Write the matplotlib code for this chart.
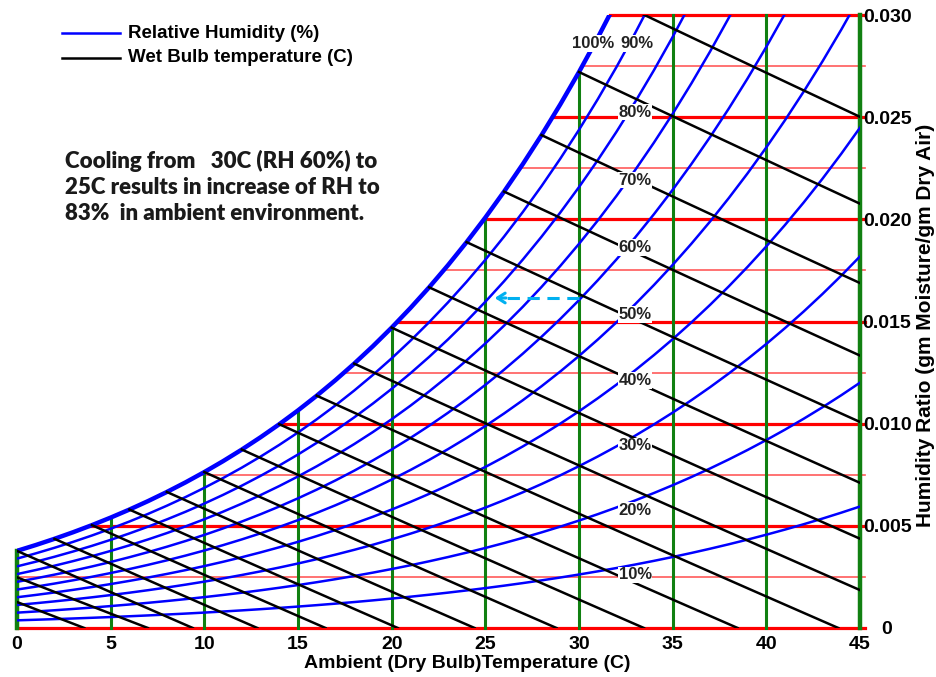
import numpy as np
import matplotlib.pyplot as plt
from matplotlib.lines import Line2D

# saturation vapour pressure over water (kPa) for 0..46 C, 1 C steps
temps = np.arange(0, 47)
p_sat = [0.6112, 0.6571, 0.7060, 0.7581, 0.8135, 0.8726, 0.9354, 1.0021, 1.0730, 1.1482,
         1.2282, 1.3129, 1.4028, 1.4981, 1.5989, 1.7057, 1.8188, 1.9383, 2.0647, 2.1982,
         2.3392, 2.4881, 2.6452, 2.8109, 2.9856, 3.1697, 3.3637, 3.5679, 3.7828, 4.0089,
         4.2467, 4.4966, 4.7592, 5.0351, 5.3247, 5.6286, 5.9475, 6.2818, 6.6324, 6.9997,
         7.3844, 7.7873, 8.2090, 8.6503, 9.1118, 9.5944, 10.098]
# below freezing (over ice), used by the two lowest wet bulb lines
ice_temps = [-4, -2]
p_ice = [0.4375, 0.5177]
p_atm = 101.325

rh_levels = [0.1, 0.2, 0.3, 0.4, 0.5, 0.6, 0.7, 0.8, 0.9, 1.0]
rh_names = ['10%', '20%', '30%', '40%', '50%', '60%', '70%', '80%', '90%', '100%']
wb_temps = [-4, -2] + list(range(0, 33, 2))
grid_temps = [0, 5, 10, 15, 20, 25, 30, 35, 40, 45]
w_levels = [0, 0.0025, 0.005, 0.0075, 0.010, 0.0125, 0.015, 0.0175,
            0.020, 0.0225, 0.025, 0.0275, 0.030]
w_ticks = [0, 0.005, 0.010, 0.015, 0.020, 0.025, 0.030]
w_tick_labels = ['0', '0.005', '0.010', '0.015', '0.020', '0.025', '0.030']

# cooling example: 30C -> 25C at constant moisture
cool_from, cool_to, cool_w = 30, 25.35, 0.01615

note_lines = ['Cooling from   30C (RH 60%) to',
              '25C results in increase of RH to',
              '83%  in ambient environment.']

p_sat = np.array(p_sat)


def hum_ratio(pw):
    return 0.622 * pw / (p_atm - pw)


w_sat = hum_ratio(p_sat)

plt.rcParams['font.family'] = ['Liberation Sans', 'DejaVu Sans']
plt.rcParams['font.weight'] = 'bold'

fig = plt.figure(figsize=(9.37, 6.77), dpi=100)
ax = fig.add_axes([17 / 937, 49 / 677, 843 / 937, 613 / 677])
ax.set_xlim(0, 45)
ax.set_ylim(0, 0.030)
for s in ax.spines.values():
    s.set_visible(False)

# horizontal humidity ratio lines
for w in w_levels:
    t_start = np.interp(w, w_sat, temps) if w > w_sat[0] else 0
    major = abs(w / 0.005 - round(w / 0.005)) < 1e-6
    ax.plot([t_start, 45.25], [w, w], color='#ff0000' if major else '#ff5a5a',
            lw=2.3 if major else 1.2, clip_on=False, zorder=1)

# vertical dry bulb lines
for t in grid_temps:
    top = min(np.interp(t, temps, w_sat), 0.030)
    lw = 3.2 if t in (0, 45) else 2.2
    ax.plot([t, t], [0, top], color='#118011', lw=lw, clip_on=False, zorder=2)

# relative humidity curves
for rh in rh_levels:
    ax.plot(temps, hum_ratio(rh * p_sat), color='#0000ff',
            lw=3.2 if rh == 1.0 else 1.8, zorder=3)

# wet bulb lines
for twb in wb_temps:
    if twb < 0:
        ws = hum_ratio(p_ice[ice_temps.index(twb)])
        a, b = 2830 - 0.24 * twb, 2830 - 2.1 * twb
    else:
        ws = hum_ratio(np.interp(twb, temps, p_sat))
        a, b = 2501 - 2.326 * twb, 2501 - 4.186 * twb
    t_end = min(twb + a * ws / 1.006, 45)
    t = np.linspace(twb, t_end, 30)
    w = (a * ws - 1.006 * (t - twb)) / (b + 1.86 * t)
    ax.plot(t, w, color='black', lw=1.8, zorder=4)

# RH labels
for rh, name in zip(rh_levels, rh_names):
    if rh == 1.0:
        x, y = 30.75, 0.0286
    elif rh == 0.9:
        x, y = 33.1, 0.0286
    else:
        x = 33
        y = hum_ratio(rh * np.interp(x, temps, p_sat)) - 0.0005
    ax.text(x, y, name, fontsize=12, color='#222222', ha='center', va='center',
            bbox=dict(facecolor='white', edgecolor='none', pad=0.5), zorder=5)

# cooling arrow
ax.plot([cool_from, cool_to + 0.5], [cool_w, cool_w], color='#00b0f0', lw=2.2,
        ls=(0, (4, 2.5)), zorder=6)
ax.annotate('', xy=(cool_to, cool_w), xytext=(cool_to + 0.9, cool_w),
            arrowprops=dict(arrowstyle='->,head_length=0.55,head_width=0.35',
                            color='#00b0f0', lw=2.2), zorder=6)

# axes ticks
ax.set_xticks(grid_temps)
ax.set_xticklabels([str(t) for t in grid_temps], fontsize=14, fontweight='bold')
ax.tick_params(axis='x', length=0, pad=6)
ax.yaxis.tick_right()
ax.set_yticks(w_ticks)
ax.set_yticklabels(w_tick_labels, fontsize=14, fontweight='bold', ha='center')
ax.tick_params(axis='y', length=0, pad=19.5)

fig.text(467 / 937, 1 - 664 / 677, 'Ambient (Dry Bulb)Temperature (C)',
         fontsize=14, fontweight='bold', ha='center', va='center')
fig.text(926 / 937, 1 - 325 / 677, 'Humidity Ratio (gm Moisture/gm Dry Air)',
         fontsize=15, fontweight='bold', ha='center', va='center', rotation=90)

# legend
for yy, col, lab in [(33, '#0000ff', 'Relative Humidity (%)'),
                     (58, 'black', 'Wet Bulb temperature (C)')]:
    fig.add_artist(Line2D([62 / 937, 120 / 937], [1 - yy / 677] * 2, color=col,
                          lw=1.8, transform=fig.transFigure))
    fig.text(128 / 937, 1 - yy / 677, lab, fontsize=13.5, fontweight='bold',
             ha='left', va='center')

for i, line in enumerate(note_lines):
    fig.text(65 / 937, 1 - (168 + 26 * i) / 677, line, fontsize=16,
             fontweight='heavy', family=['Lato', 'DejaVu Sans'], color='#1a1a1a',
             ha='left', va='baseline')

fig.savefig('out.png', dpi=100)
